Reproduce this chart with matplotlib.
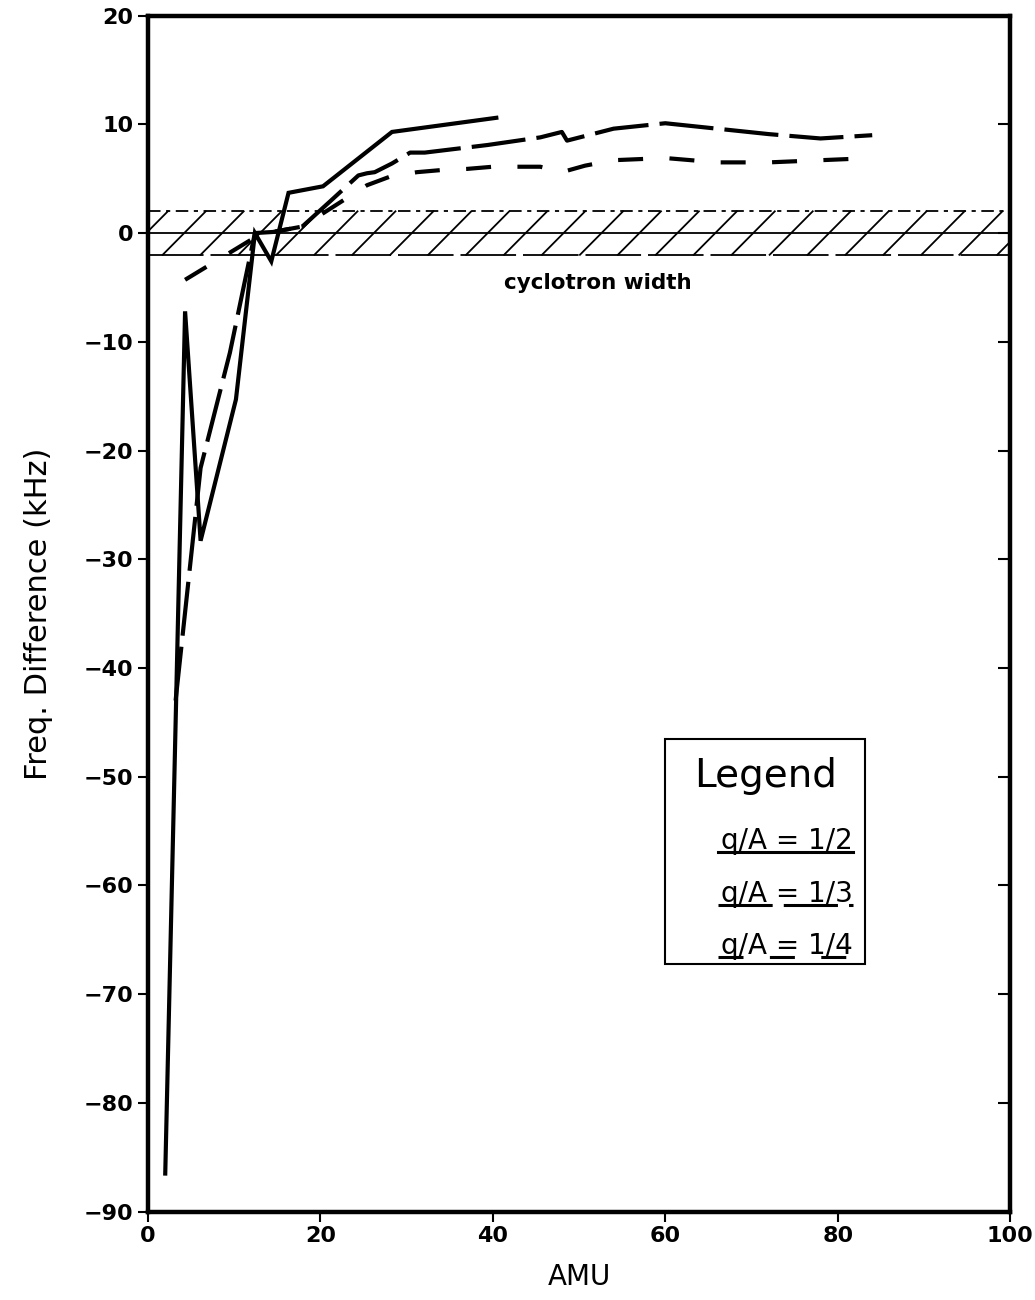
import matplotlib
matplotlib.use('Agg')
import matplotlib.pyplot as plt
import numpy as np

plt.rcParams['font.family'] = ['DejaVu Sans']
plt.rcParams['lines.scale_dashes'] = False

# q/A = 1/2 (solid)
amu_half = [2.0, 4.3, 6.1, 10.2, 12.4, 14.3, 16.3, 20.3, 28.3, 40.4]
df_half = [-86.5, -7.2, -28.3, -15.3, 0.0, -2.6, 3.7, 4.3, 9.3, 10.6]

# q/A = 1/3 (long dash)
amu_third = [3.2, 6.1, 9.5, 12.4, 14.5, 17.9, 21.1, 24.4, 25.4, 26.3, 28.3, 30.4,
             32.1, 39.4, 45.5, 48.0, 48.6, 54.0, 60.0, 66.0, 72.0, 78.0, 84.0]
df_third = [-43.0, -21.6, -11.0, 0.0, 0.1, 0.6, 2.9, 5.3, 5.5, 5.6, 6.4, 7.4,
            7.4, 8.1, 8.8, 9.3, 8.5, 9.6, 10.1, 9.6, 9.1, 8.7, 9.0]

# q/A = 1/4 (short dash)
amu_quarter = [4.3, 12.4, 14.5, 17.9, 25.4, 28.1, 31.2, 34.1, 37.0, 40.0,
               45.5, 48.0, 50.7, 54.0, 60.0, 66.0, 72.0, 78.0, 84.0]
df_quarter = [-4.3, -0.4, 0.1, 0.6, 4.4, 5.2, 5.6, 5.8, 5.9, 6.1,
              6.1, 5.6, 6.2, 6.7, 6.9, 6.5, 6.5, 6.7, 6.9]

band_lo, band_hi = -2, 2
legend_labels = ['q/A = 1/2', 'q/A = 1/3', 'q/A = 1/4']

fig = plt.figure(figsize=(10.35, 13.0), dpi=100)
ax = fig.add_axes([0.143, 0.068, 0.833, 0.920])

# cyclotron width band
ax.axhline(0, color='black', lw=1.3)
ax.axhline(band_hi, color='black', lw=1.3, dashes=[9, 4, 3, 4])
ax.axhline(band_lo, color='black', lw=1.3, dashes=[40, 5])
for x0 in np.arange(-2.7, 100, 4.4):
    ax.plot([x0, x0 + 5.0], [band_lo, band_hi], color='black', lw=1.3)
ax.text(52.2, -4.6, 'cyclotron width', fontsize=15.5, fontweight='bold',
        ha='center', va='center')

lw = 3.0
styles = [dict(), dict(dashes=[39, 8]), dict(dashes=[18, 19])]
ax.plot(amu_half, df_half, color='black', lw=lw, solid_joinstyle='miter', **styles[0])
ax.plot(amu_third, df_third, color='black', lw=lw, **styles[1])
ax.plot(amu_quarter, df_quarter, color='black', lw=lw, **styles[2])

ax.set_xlim(0, 100)
ax.set_ylim(-90, 20)
ax.set_xticks(range(0, 101, 20))
ax.set_yticks(range(-90, 21, 10))
for s in ax.spines.values():
    s.set_linewidth(3.2)
ax.tick_params(axis='y', which='both', direction='out', length=7, width=1.5,
               labelsize=16, right=True)
ax.tick_params(axis='x', direction='out', length=7, width=1.5, labelsize=16)
for t in ax.get_yticklabels() + ax.get_xticklabels():
    t.set_fontweight('bold')
# right ticks point inward
for tl in ax.yaxis.get_major_ticks():
    tl.tick2line.set_marker(matplotlib.lines.TICKLEFT)
    tl.tick2line.set_markersize(9)

ax.set_xlabel('AMU', fontsize=20, labelpad=12)
ax.set_ylabel('Freq. Difference (kHz)', fontsize=22, labelpad=22)

# legend box
box = matplotlib.patches.Rectangle((0.600, 0.207), 0.232, 0.188, transform=ax.transAxes,
                                   fill=False, lw=1.5, color='black')
ax.add_patch(box)
ax.text(0.716, 0.3645, 'Legend', transform=ax.transAxes, fontsize=28,
        ha='center', va='center')
ys = [0.301, 0.2567, 0.2132]
for lab, y, st in zip(legend_labels, ys, styles):
    ax.text(0.817, y + 0.002, lab, transform=ax.transAxes, fontsize=20,
            ha='right', va='baseline')
    ax.plot([0.661, 0.818], [y, y], transform=ax.transAxes,
            color='black', lw=2.2, **st)

fig.savefig('out.png', dpi=100)
